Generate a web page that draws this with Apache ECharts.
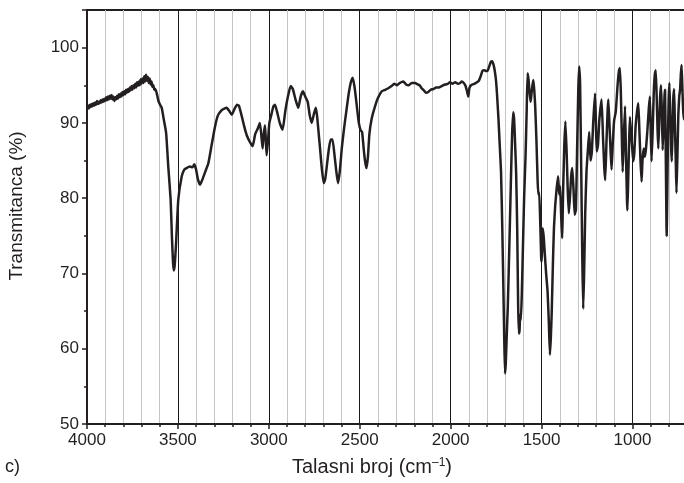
<!DOCTYPE html>
<html><head><meta charset="utf-8">
<script src="https://cdn.jsdelivr.net/npm/echarts@6/dist/echarts.min.js"></script>
<style>html,body{margin:0;padding:0;background:#fff}#c{width:684px;height:483px}</style>
</head><body><div id="c"></div>
<script>
const wavenumbers = [4000,3995,3990,3985,3980,3975,3970,3965,3960,3955,3950,3945,3940,3935,3930,3925,3920,3915,3910,3905,3900,3895,3890,3885,3880,3875,3870,3865,3860,3855,3850,3845,3840,3835,3830,3825,3820,3815,3810,3805,3800,3795,3790,3785,3780,3775,3770,3765,3760,3755,3750,3745,3740,3735,3730,3725,3720,3715,3710,3705,3700,3695,3690,3685,3680,3675,3670,3665,3660,3655,3650,3645,3640,3635,3630,3625,3617,3608,3600,3589,3578,3565,3553,3540,3533,3527,3523,3518,3510,3498,3479,3465,3452,3435,3420,3410,3400,3390,3378,3365,3350,3333,3315,3296,3280,3259,3245,3232,3218,3204,3190,3175,3165,3150,3135,3122,3105,3089,3075,3060,3049,3040,3034,3028,3021,3016,3012,3005,2997,2985,2975,2966,2955,2940,2924,2910,2895,2880,2868,2852,2838,2825,2812,2800,2786,2775,2764,2752,2742,2735,2728,2718,2708,2698,2690,2680,2670,2660,2650,2640,2630,2620,2610,2598,2585,2573,2560,2548,2539,2530,2522,2515,2505,2495,2487,2478,2470,2463,2455,2447,2435,2416,2400,2379,2360,2343,2325,2310,2295,2280,2260,2245,2230,2215,2196,2180,2170,2160,2150,2135,2123,2110,2095,2080,2065,2049,2030,2015,2004,1990,1975,1960,1948,1939,1928,1918,1910,1903,1897,1888,1870,1855,1845,1835,1825,1815,1805,1798,1788,1779,1772,1765,1758,1750,1743,1737,1730,1723,1716,1710,1705,1701,1697,1692,1686,1680,1674,1668,1662,1656,1651,1646,1640,1634,1629,1625,1621,1618,1614,1609,1603,1596,1588,1582,1577,1572,1566,1560,1555,1550,1545,1540,1535,1528,1522,1518,1513,1507,1502,1499,1494,1488,1482,1475,1467,1460,1454,1449,1444,1438,1432,1425,1417,1409,1403,1398,1392,1387,1381,1375,1369,1362,1356,1350,1343,1337,1331,1324,1318,1311,1305,1298,1293,1288,1282,1276,1271,1266,1260,1253,1245,1238,1231,1224,1215,1206,1201,1197,1190,1182,1170,1162,1155,1150,1143,1137,1133,1127,1120,1115,1108,1101,1092,1082,1074,1069,1064,1058,1054,1048,1041,1036,1030,1028,1024,1018,1014,1007,1001,996,990,983,975,968,962,956,950,945,938,932,926,918,910,904,899,895,889,883,877,872,867,862,858,853,848,843,839,834,829,824,821,817,812,809,805,801,797,792,787,784,780,776,771,767,762,758,753,748,743,738,734,730,726,722,718,714];
const transmittance = [92.0,92.3,91.9,92.4,92.1,92.5,92.2,92.6,92.3,92.7,92.4,92.9,92.5,92.8,92.6,93.0,92.7,93.1,92.8,93.2,92.9,93.4,93.0,93.5,93.1,93.6,93.2,93.7,93.1,93.5,92.9,93.4,93.1,93.6,93.2,93.8,93.4,93.9,93.5,94.1,93.7,94.2,93.8,94.4,94.0,94.5,94.1,94.7,94.3,94.9,94.4,95.0,94.6,95.2,94.7,95.4,94.9,95.5,95.0,95.8,95.2,95.9,95.3,96.2,95.5,96.4,95.6,96.1,95.3,95.9,95.1,95.5,94.8,95.0,94.4,94.5,94.0,93.0,92.5,92.0,90.5,88.7,84.2,79.8,74.9,71.5,70.4,71.0,74.1,79.8,82.9,83.8,84.0,84.2,84.1,84.5,83.8,82.5,81.8,82.5,83.5,84.6,87.0,89.5,91.0,91.7,91.9,92.0,91.6,91.1,91.8,92.4,92.3,91.0,89.5,88.4,87.5,86.9,88.5,89.3,90.0,88.0,86.6,88.5,89.7,87.5,85.7,87.5,90.0,91.2,92.2,92.4,91.5,90.0,89.1,91.5,93.5,94.9,94.5,93.0,92.0,93.5,94.2,93.5,92.8,91.0,90.0,91.2,92.0,91.0,89.2,86.5,83.8,82.0,82.5,84.5,86.5,87.8,87.8,86.0,83.8,82.0,83.5,86.8,89.5,91.7,94.0,95.5,96.0,95.0,93.5,92.0,90.0,89.0,88.8,86.5,84.8,84.0,85.5,88.5,90.5,92.2,93.3,94.2,94.4,94.6,94.9,95.2,95.0,95.3,95.5,95.1,95.0,95.3,95.3,95.1,95.0,94.6,94.4,94.0,94.1,94.4,94.5,94.7,94.7,94.9,95.1,95.2,95.4,95.2,95.4,95.2,95.3,95.5,95.3,94.9,94.2,93.5,94.6,95.0,95.2,95.4,95.6,96.2,96.9,97.0,96.9,96.9,97.5,98.1,98.2,97.8,97.0,95.5,93.0,90.5,87.0,83.5,76.0,68.0,61.0,56.7,58.0,61.5,65.4,71.0,76.9,83.0,88.5,91.4,90.5,87.5,83.5,76.0,66.0,62.0,62.5,64.5,63.8,67.0,73.0,80.0,85.7,91.5,96.6,95.8,94.0,92.8,94.0,95.0,95.7,94.3,92.2,87.5,82.5,80.5,80.8,76.5,72.0,71.6,76.0,74.8,72.5,70.0,67.6,63.5,59.2,61.5,65.0,71.0,76.0,79.0,81.3,82.9,80.5,81.6,77.5,74.7,81.5,87.0,90.2,86.0,81.0,78.0,80.5,83.0,84.0,81.0,77.8,78.5,86.0,94.5,97.5,95.0,84.0,72.0,65.3,70.0,78.0,83.5,86.5,88.8,85.0,86.0,90.5,93.9,90.0,86.2,87.0,90.5,93.1,88.0,84.0,82.4,87.5,91.5,93.1,90.0,86.0,83.8,87.5,90.3,91.5,95.0,97.0,97.3,94.0,87.5,83.5,88.0,92.2,86.0,79.5,78.4,82.0,88.0,90.8,88.5,86.5,84.9,86.0,89.5,91.5,92.6,89.0,85.0,82.2,85.0,86.6,85.5,86.5,89.0,92.0,93.5,88.0,84.9,89.0,94.0,96.5,97.0,93.5,89.0,86.6,90.0,93.5,95.0,92.0,86.4,89.5,93.5,94.4,86.0,75.0,80.0,88.0,93.0,95.3,91.0,86.5,84.9,88.5,93.0,94.5,90.0,85.0,80.7,85.5,91.0,93.5,94.5,96.5,97.7,95.0,92.0,90.5,91.0];
const yTicks = [50, 60, 70, 80, 90, 100];
const xTicks = [4000, 3500, 3000, 2500, 2000, 1500, 1000];
const xTitle = 'Talasni broj (cm';
const xTitleSup = '–1';
const yTitle = 'Transmitanca (%)';
const panelLabel = 'c)';

const ink = '#231f20';
const font = '"Liberation Sans", Arial, Helvetica, sans-serif';
const chart = echarts.init(document.getElementById('c'), null, {renderer: 'canvas'});
chart.setOption({
  animation: false,
  backgroundColor: '#ffffff',
  grid: {left: 87, top: 10, width: 636.4, height: 414, outerBoundsMode: 'none', containLabel: false,
    show: true, borderColor: ink, borderWidth: 2, backgroundColor: 'transparent'},
  xAxis: {
    type: 'value', inverse: true, min: 500, max: 4000, interval: 500,
    axisLine: {show: true, onZero: false, lineStyle: {color: ink, width: 2}},
    axisTick: {show: true, length: 5, lineStyle: {color: ink, width: 1.5}},
    minorTick: {show: true, splitNumber: 5, length: 3, lineStyle: {color: ink, width: 1.5}},
    splitLine: {show: true, lineStyle: {color: '#1a1a1a', width: 1}},
    minorSplitLine: {show: true, lineStyle: {color: '#c4c4c4', width: 1}},
    axisLabel: {margin: 8, fontSize: 17, fontFamily: font, color: ink,
      formatter: v => xTicks.indexOf(v) >= 0 ? String(v) : ''}
  },
  yAxis: {
    type: 'value', min: 50, max: 105, interval: 10,
    axisLine: {show: true, onZero: false, lineStyle: {color: ink, width: 2}},
    axisTick: {show: true, length: 5, lineStyle: {color: ink, width: 1.5}},
    minorTick: {show: true, splitNumber: 2, length: 3, lineStyle: {color: ink, width: 1.5}},
    splitLine: {show: false},
    axisLabel: {margin: 8, fontSize: 17, fontFamily: font, color: ink,
      formatter: v => yTicks.indexOf(v) >= 0 ? String(v) : ''}
  },
  series: [{
    type: 'line', showSymbol: false, smooth: 0.15, clip: true,
    data: wavenumbers.map((w, i) => [w, transmittance[i]]),
    lineStyle: {color: ink, width: 2.5}
  }],
  graphic: [
    {type: 'text', x: 372, y: 467, style: {
      text: '{m|' + xTitle + '}{s|' + xTitleSup + '}{m|)}',
      align: 'center', verticalAlign: 'middle',
      rich: {m: {fontSize: 20, fontFamily: font, fill: ink, color: ink},
             s: {fontSize: 12, fontFamily: font, fill: ink, color: ink, verticalAlign: 'top'}}
    }},
    {type: 'text', x: 17, y: 206, rotation: Math.PI / 2, style: {
      text: yTitle, align: 'center', verticalAlign: 'middle',
      fontSize: 19, fontFamily: font, fill: ink
    }},
    {type: 'text', x: 5, y: 467, style: {
      text: panelLabel, align: 'left', verticalAlign: 'middle',
      fontSize: 18, fontFamily: font, fill: ink
    }}
  ]
});
</script></body></html>
